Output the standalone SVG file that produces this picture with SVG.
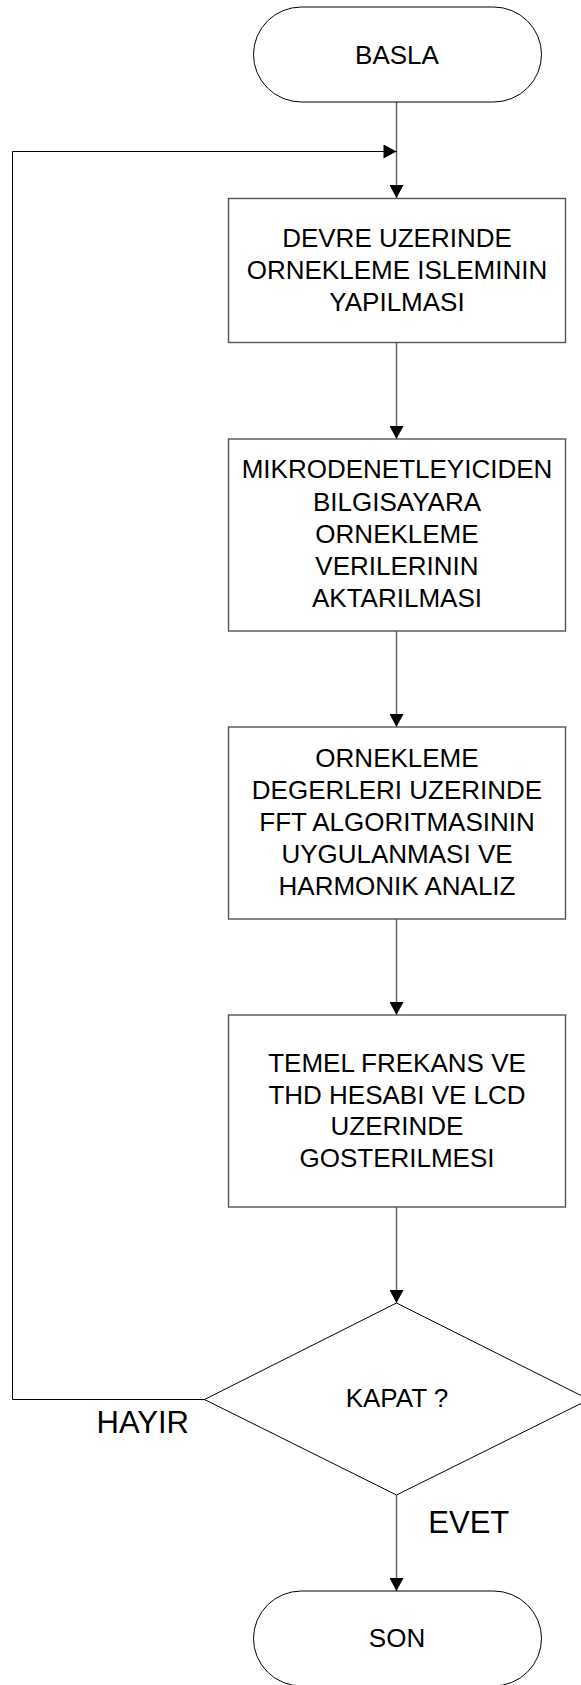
<svg xmlns="http://www.w3.org/2000/svg" width="581" height="1685" viewBox="0 0 581 1685">
  <style>
    .term { fill: #fff; stroke: #000; stroke-width: 1; }
    .box { fill: #fff; stroke: #555; stroke-width: 1.4; }
    .dec { fill: #fff; stroke: #000; stroke-width: 1; }
    .flow { fill: none; stroke: #666; stroke-width: 1.5; }
    .loop { fill: none; stroke: #000; stroke-width: 1; }
    .t { font-family: "Liberation Sans", Arial, sans-serif; font-size: 26px; fill: #000; text-anchor: middle; }
    .lbl { font-family: "Liberation Sans", Arial, sans-serif; font-size: 31px; fill: #000; }
  </style>
  <defs>
    <marker id="arrow" markerUnits="userSpaceOnUse" markerWidth="14" markerHeight="14" viewBox="0 0 13 14" refX="13" refY="7" orient="auto">
      <path d="M0,0 L13,7 L0,14 Z" fill="#000"/>
    </marker>
  </defs>

  <!-- connectors -->
  <g id="connectors">
    <path class="flow" d="M396.5,102 V198" marker-end="url(#arrow)"/>
    <path class="loop" d="M205,1399.5 H12.5 V151.5 H396.5" marker-end="url(#arrow)"/>
    <path class="flow" d="M396.5,342.5 V439" marker-end="url(#arrow)"/>
    <path class="flow" d="M396.5,631 V727" marker-end="url(#arrow)"/>
    <path class="flow" d="M396.5,919 V1015" marker-end="url(#arrow)"/>
    <path class="flow" d="M396.5,1207 V1303" marker-end="url(#arrow)"/>
    <path class="flow" d="M396.5,1495 V1591" marker-end="url(#arrow)"/>
  </g>

  <!-- start -->
  <g id="start">
    <rect class="term" x="253.5" y="7" width="288" height="95" rx="48" ry="47.5"/>
    <text class="t" x="397" y="63.5">BASLA</text>
  </g>

  <!-- sampling on the circuit -->
  <g id="sampling">
    <rect class="box" x="228.5" y="198.5" width="337" height="144"/>
    <text class="t" x="397" y="246.7">DEVRE UZERINDE</text>
    <text class="t" x="397" y="279">ORNEKLEME ISLEMININ</text>
    <text class="t" x="397" y="311">YAPILMASI</text>
  </g>

  <!-- transfer to the PC -->
  <g id="transfer">
    <rect class="box" x="228.5" y="439" width="337" height="192"/>
    <text class="t" x="397" y="478.3">MIKRODENETLEYICIDEN</text>
    <text class="t" x="397" y="510.5">BILGISAYARA</text>
    <text class="t" x="397" y="542.7">ORNEKLEME</text>
    <text class="t" x="397" y="574.7">VERILERININ</text>
    <text class="t" x="397" y="606.7">AKTARILMASI</text>
  </g>

  <!-- FFT and harmonic analysis -->
  <g id="fft">
    <rect class="box" x="228.5" y="727" width="337" height="192"/>
    <text class="t" x="397" y="766.7">ORNEKLEME</text>
    <text class="t" x="397" y="798.7">DEGERLERI UZERINDE</text>
    <text class="t" x="397" y="830.7">FFT ALGORITMASININ</text>
    <text class="t" x="397" y="862.7">UYGULANMASI VE</text>
    <text class="t" x="397" y="894.7">HARMONIK ANALIZ</text>
  </g>

  <!-- THD and display -->
  <g id="display">
    <rect class="box" x="228.5" y="1015" width="337" height="192"/>
    <text class="t" x="397" y="1071.7">TEMEL FREKANS VE</text>
    <text class="t" x="397" y="1103.5">THD HESABI VE LCD</text>
    <text class="t" x="397" y="1135.2">UZERINDE</text>
    <text class="t" x="397" y="1166.8">GOSTERILMESI</text>
  </g>

  <!-- decision -->
  <g id="decision">
    <polygon class="dec" points="396.5,1303 589,1399.5 396.5,1495 204.5,1399.5"/>
    <text class="t" x="397" y="1406.7">KAPAT ?</text>
  </g>

  <g id="label-no">
    <text class="lbl" x="96.5" y="1432.7">HAYIR</text>
  </g>
  <g id="label-yes">
    <text class="lbl" x="428.3" y="1532.7">EVET</text>
  </g>

  <!-- end -->
  <g id="end">
    <rect class="term" x="253.5" y="1591" width="288" height="95" rx="48" ry="47.5"/>
    <text class="t" x="397" y="1646.7">SON</text>
  </g>
</svg>
